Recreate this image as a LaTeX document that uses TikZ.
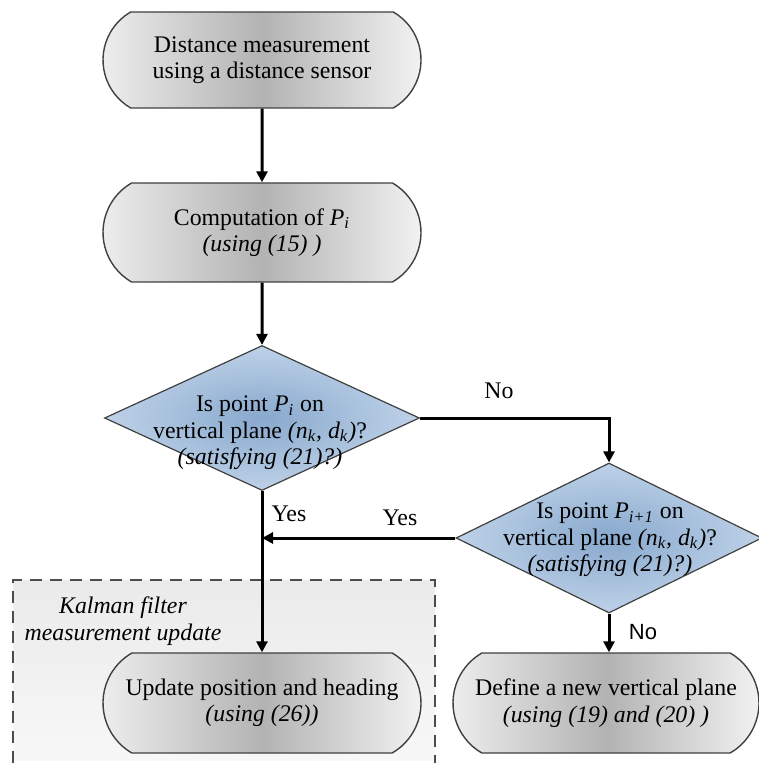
\documentclass[tikz,border=0pt]{standalone}
\usepackage{fontspec}
\setmainfont{Liberation Serif}
\newfontfamily\labelsans{Liberation Sans}
\usetikzlibrary{arrows.meta,shapes.geometric,shapes.misc}

\definecolor{diamondin}{RGB}{136,168,205}
\definecolor{diamondout}{RGB}{190,210,232}

\begin{document}
\begin{tikzpicture}[x=0.5pt,y=-0.5pt,
  txt/.style={font=\fontsize{11.9}{13.2}\selectfont, align=center},
  terminal/.style={rounded rectangle, rounded rectangle arc length=120,
    draw=black!75, line width=0.7pt, left color=black!6, right color=black!4,
    middle color=black!30, minimum width=159pt, minimum height=48pt, inner sep=0pt},
  decision/.style={diamond, draw=black!75, line width=0.6pt,
    inner color=diamondin, outer color=diamondout, inner sep=0pt},
  flow/.style={line width=1.5pt, -{Triangle[length=5.5pt,width=5.5pt]}}]

  \useasboundingbox (0,0) rectangle (758,763);

  % Kalman filter region
  \fill[top color=black!8, bottom color=black!3] (13,580) rectangle (435,760);
  \draw[black!70, line width=0.75pt, dash pattern=on 6pt off 4pt]
    (13,763) -- (13,580) -- (435,580) -- (435,763);
  \node[txt] (kalman) at (123,621) {\textit{Kalman filter}\\\textit{measurement update}};

  % Process boxes
  \node[terminal, minimum height=48pt, txt] (meas) at (262,60)
    {Distance measurement\\using a distance sensor};
  \node[terminal, minimum height=49.5pt, txt] (comp) at (262,232.5)
    {Computation of \textit{P}\textsubscript{\textit{i}}\\\textit{(using (15) )}};
  \node[terminal, minimum height=50pt, txt] (update) at (262,703)
    {Update position and heading\\\textit{(using (26))}};
  \node[terminal, minimum height=50pt, minimum width=153pt, txt] (newplane) at (606,703)
    {Define a new vertical plane\\\textit{(using (19) and (20) )}};

  % Decisions
  \node[decision, minimum width=157.5pt, minimum height=72.5pt] (check) at (262,418) {};
  \node[txt] (checktxt) at (260,433)
    {Is point \textit{P}\textsubscript{\textit{i}} on\\
     vertical plane \textit{(n\textsubscript{k}, d\textsubscript{k})}?\\
     \textit{(satisfying (21)?)}};
  \node[decision, minimum width=153pt, minimum height=75pt] (checknext) at (609,538) {};
  \node[txt] (checknexttxt) at (610,540)
    {Is point \textit{P}\textsubscript{\textit{i+1}} on\\
     vertical plane \textit{(n\textsubscript{k}, d\textsubscript{k})}?\\
     \textit{(satisfying (21)?)}};

  % Connectors
  \draw[flow] (meas) -- (comp);
  \draw[flow] (comp) -- (check);
  \draw[flow] (check.east) -| (checknext.north);
  \draw[flow] (checknext.west) -- (checknext.west -| check.south);
  \draw[flow] (check.south) -- (update.north);
  \draw[flow] (checknext.south) -- (checknext.south |- newplane.north);

  % Branch labels
  \node[txt] (nolbl) at (499,391) {No};
  \node[txt] (yeslbl) at (289,514) {Yes};
  \node[txt] (yesnext) at (400,518) {Yes};
  \node[font=\labelsans\fontsize{11}{13}\selectfont] (nonext) at (643,632) {No};
\end{tikzpicture}
\end{document}
